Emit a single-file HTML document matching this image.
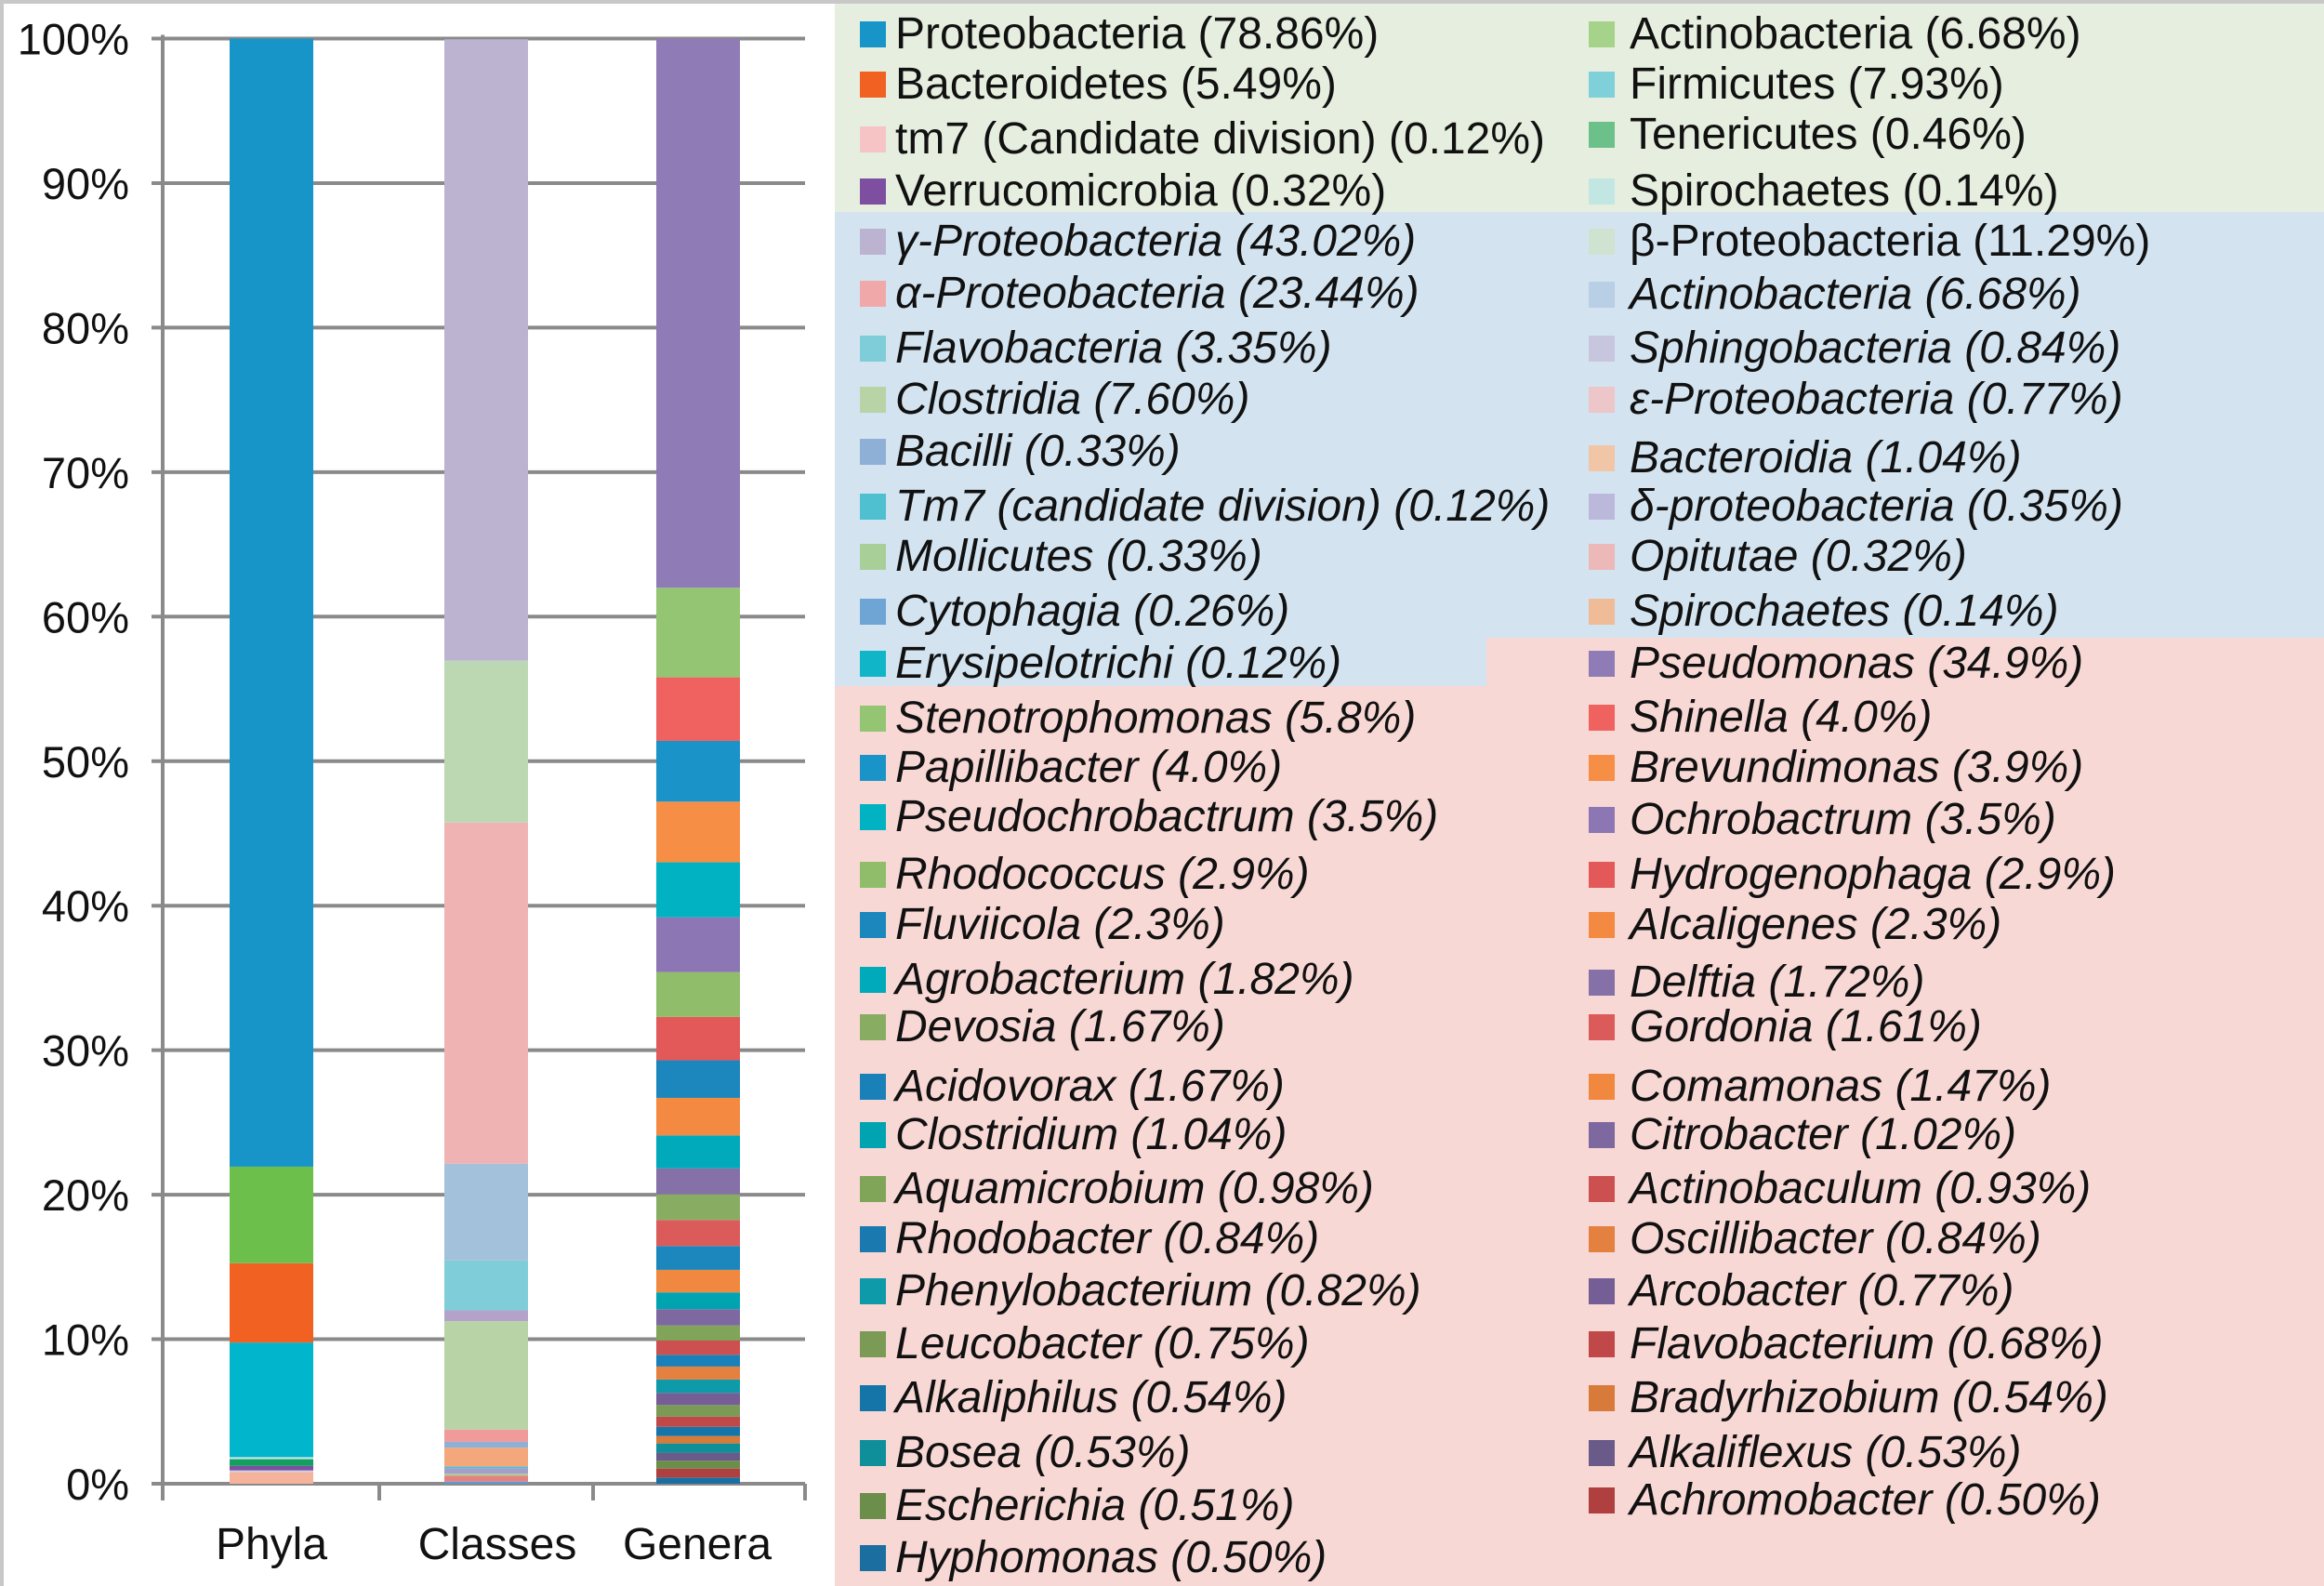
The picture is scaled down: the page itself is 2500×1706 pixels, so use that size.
<!DOCTYPE html>
<html><head><meta charset="utf-8"><style>
html,body{margin:0;padding:0;background:#fff;}
#root{position:relative;width:2500px;height:1706px;overflow:hidden;font-family:"Liberation Sans",Arial,sans-serif;}
.leg{position:absolute;font-size:48px;color:#111;white-space:nowrap;line-height:1;}
.sw{position:absolute;width:28px;height:28px;}
</style></head><body>
<div id="root">
<div style="position:absolute;left:898px;top:0;width:1602px;height:228px;background:#e6efdf;"></div>
<div style="position:absolute;left:898px;top:228px;width:701px;height:510px;background:#d3e4f0;"></div>
<div style="position:absolute;left:1599px;top:228px;width:901px;height:458px;background:#d3e4f0;"></div>
<div style="position:absolute;left:1599px;top:686px;width:901px;height:1020px;background:#f8d8d5;"></div>
<div style="position:absolute;left:898px;top:738px;width:701px;height:968px;background:#f8d8d5;"></div>
<div style="position:absolute;left:0;top:0;width:2500px;height:4px;background:#c8c8c8;"></div>
<div style="position:absolute;left:0;top:0;width:4px;height:1706px;background:#c8c8c8;"></div>
<svg id="chart" width="898" height="1706" style="position:absolute;left:0;top:0"></svg>
</div>
<script>
const categories=["Phyla","Classes","Genera"];
const yTicks=[0,10,20,30,40,50,60,70,80,90,100];
const phylaValues=[0.8,0.12,0.32,0.46,0.14,7.93,5.49,6.68,78.06];
const phylaColors=["#f4b39a","#c8d4e8","#7e4fa0","#12a060","#c9e6e6","#00b5cc","#f06122","#6bbf4a","#1795c9"];
const classValues=[0.15,0.4,0.15,0.35,0.15,1.3,0.4,0.85,7.5,0.75,3.45,6.7,23.6,11.2,43.0];
const classColors=["#5b9bd5","#e88080","#a8cf98","#a89cc8","#5bbcd0","#f4a77a","#8fb0d6","#f09a9a","#b8d3a6","#b3a3c9","#7fcdd8","#a3c1da","#f0b3b3","#bcd8b3","#bcb3d1"];
const generaValues=[0.43,0.62,0.54,0.56,0.64,0.51,0.64,0.7,0.81,0.84,0.92,0.9,0.81,1.0,1.03,1.13,1.16,1.56,1.65,1.8,1.78,1.8,2.27,2.6,2.6,3.0,3.1,3.8,3.8,4.2,4.2,4.4,6.2,38];
const generaColors=["#1a6fa0","#b04040","#6b8f4a","#6a5a8a","#0e8f9a","#d87a3a","#1575a8","#c04848","#7a9a55","#745e95","#0e9aa8","#e48040","#1a80b8","#cc5050","#80a558","#7d68a0","#00a3b0","#f0883f","#1b87bd","#db5a5a","#88ad62","#8570a8","#00aabb","#f48a41","#1b87bd","#e35858","#8fbd6a","#8c77b4","#00b2c2","#f68e45","#1a93c8","#f0625f","#93c572","#8f7cb6"];
const legendLeft=[
["Proteobacteria (78.86%)","#1795c9",0],["Bacteroidetes (5.49%)","#f06122",0],["tm7 (Candidate division) (0.12%)","#f6c4c4",0],["Verrucomicrobia (0.32%)","#7e4fa0",0],
["γ-Proteobacteria (43.02%)","#bcb3d1",1],["α-Proteobacteria (23.44%)","#f0a8a8",1],["Flavobacteria (3.35%)","#7fcdd8",1],["Clostridia (7.60%)","#b8d3a6",1],["Bacilli (0.33%)","#8fb0d6",1],["Tm7 (candidate division) (0.12%)","#4fc0d0",1],["Mollicutes (0.33%)","#a8cf98",1],["Cytophagia (0.26%)","#6fa5d5",1],["Erysipelotrichi (0.12%)","#10b5c8",1],
["Stenotrophomonas (5.8%)","#93c572",1],["Papillibacter (4.0%)","#1a93c8",1],["Pseudochrobactrum (3.5%)","#00b2c2",1],["Rhodococcus (2.9%)","#8fbd6a",1],["Fluviicola (2.3%)","#1b87bd",1],["Agrobacterium (1.82%)","#00aabb",1],["Devosia (1.67%)","#88ad62",1],["Acidovorax (1.67%)","#1a80b8",1],["Clostridium (1.04%)","#00a3b0",1],["Aquamicrobium (0.98%)","#80a558",1],["Rhodobacter (0.84%)","#1a7ab0",1],["Phenylobacterium (0.82%)","#0e9aa8",1],["Leucobacter (0.75%)","#7a9a55",1],["Alkaliphilus (0.54%)","#1575a8",1],["Bosea (0.53%)","#0e8f9a",1],["Escherichia (0.51%)","#6b8f4a",1],["Hyphomonas (0.50%)","#1a6fa0",1]];
const legendRight=[
["Actinobacteria (6.68%)","#a6d38a",0],["Firmicutes (7.93%)","#7fd0d8",0],["Tenericutes (0.46%)","#6cc08a",0],["Spirochaetes (0.14%)","#c2e6e2",0],
["β-Proteobacteria (11.29%)","#cfe3d0",0],["Actinobacteria (6.68%)","#b8cfe6",1],["Sphingobacteria (0.84%)","#c8c6de",1],["ε-Proteobacteria (0.77%)","#ecc6c8",1],["Bacteroidia (1.04%)","#f0c6a6",1],["δ-proteobacteria (0.35%)","#bcb8dc",1],["Opitutae (0.32%)","#ecb8b8",1],["Spirochaetes (0.14%)","#f0bc98",1],
["Pseudomonas (34.9%)","#8f7cb6",1],["Shinella (4.0%)","#f0625f",1],["Brevundimonas (3.9%)","#f68e45",1],["Ochrobactrum (3.5%)","#8c77b4",1],["Hydrogenophaga (2.9%)","#e35858",1],["Alcaligenes (2.3%)","#f48a41",1],["Delftia (1.72%)","#8570a8",1],["Gordonia (1.61%)","#db5a5a",1],["Comamonas (1.47%)","#f0883f",1],["Citrobacter (1.02%)","#7d68a0",1],["Actinobaculum (0.93%)","#cc5050",1],["Oscillibacter (0.84%)","#e48040",1],["Arcobacter (0.77%)","#745e95",1],["Flavobacterium (0.68%)","#c04848",1],["Bradyrhizobium (0.54%)","#d87a3a",1],["Alkaliflexus (0.53%)","#6a5a8a",1],["Achromobacter (0.50%)","#b04040",1]];
const rowYLeft=[23,57,94,129,163,198,235,270,305,342,376,413,448,485,518,551,590,624,661,693,733,766,802,836,871,907,943,980,1016,1051];
const rowYRight=[23,57,91,129,163,199,235,270,309,342,376,413,448,484,518,553,590,624,663,693,733,766,802,836,871,907,943,980,1012];

const NS="http://www.w3.org/2000/svg";
const svg=document.getElementById('chart');
const y0=1596,y100=41.5,axisX=175,plotRight=866;
function yScale(v){return y0-(y0-y100)*v/100;}
const barX=[247,478,706],barW=90,catX=[292,535,750];
function mk(tag,attrs){const e=document.createElementNS(NS,tag);for(const k in attrs)e.setAttribute(k,attrs[k]);svg.appendChild(e);return e;}
yTicks.forEach((t,i)=>{
  const y=yScale(t);
  const g=mk('line',{x1:axisX-12,x2:plotRight,y1:y,y2:y,stroke:'#8a8a8a','stroke-width':4});
  
  
  const tx=mk('text',{x:139,y:y+17,'text-anchor':'end','font-size':47,'font-family':'Liberation Sans, Arial, sans-serif',fill:'#111'});
  tx.textContent=t+'%';
  
  
});
const ax=mk('line',{x1:axisX,x2:axisX,y1:y100-4,y2:y0+16,stroke:'#8a8a8a','stroke-width':4});


[175,408,638,866].forEach(x=>{const t=mk('line',{x1:x,x2:x,y1:y0,y2:y0+18,stroke:'#8a8a8a','stroke-width':4});

});
const series=[[phylaValues,phylaColors],[classValues,classColors],[generaValues,generaColors]];
series.forEach((s,ci)=>{
  let acc=0;
  s[0].forEach((v,i)=>{
    const yt=yScale(Math.min(100,acc+v)),yb=yScale(acc);
    const r=mk('rect',{x:barX[ci],y:yt,width:barW,height:Math.max(0,yb-yt),fill:s[1][i]});
    
    
    acc+=v;
  });
  const lb=mk('text',{x:catX[ci],y:1677,'text-anchor':'middle','font-size':48,'font-family':'Liberation Sans, Arial, sans-serif',fill:'#111'});
  lb.textContent=categories[ci];
  
  
});
const root=document.getElementById('root');
const S=2500/1568;
function addLegend(list,rows,swX,txX){
  list.forEach((it,i)=>{
    const cy=rows[i]*S;
    const sw=document.createElement('div');sw.className='sw';
    sw.style.left=swX+'px';sw.style.top=(cy-14)+'px';sw.style.background=it[1];
    
    
    root.appendChild(sw);
    const t=document.createElement('div');t.className='leg';
    t.style.left=txX+'px';t.style.top=(cy-24)+'px';
    if(it[2])t.style.fontStyle='italic';
    t.textContent=it[0];
    
    
    root.appendChild(t);
  });
}
addLegend(legendLeft,rowYLeft,925,963);
addLegend(legendRight,rowYRight,1709,1753);
</script>
</body></html>
